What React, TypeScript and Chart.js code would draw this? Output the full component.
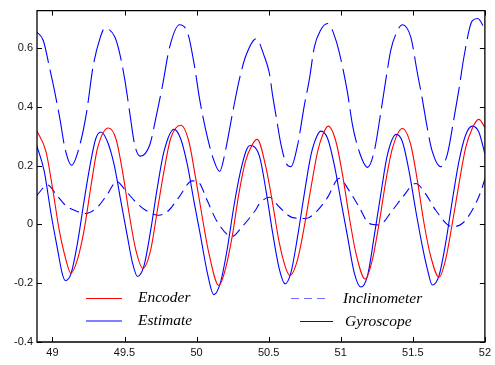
import React, { useEffect, useRef } from "react";
import { Chart, registerables } from "chart.js";

Chart.register(...registerables);

// ---- Data ----
const encoderX = [48.89, 48.955, 49.0, 49.047, 49.093, 49.128, 49.174, 49.22, 49.266, 49.313, 49.389, 49.44, 49.486, 49.532, 49.578, 49.628, 49.682, 49.728, 49.774, 49.82, 49.891, 49.947, 49.993, 50.039, 50.085, 50.154, 50.2, 50.247, 50.293, 50.339, 50.385, 50.42, 50.482, 50.528, 50.574, 50.621, 50.648, 50.701, 50.747, 50.794, 50.84, 50.874, 50.914, 50.967, 51.012, 51.059, 51.105, 51.17, 51.22, 51.266, 51.313, 51.359, 51.428, 51.486, 51.532, 51.578, 51.624, 51.682, 51.728, 51.774, 51.82, 51.866, 51.912, 51.958, 52.0];
const encoderY = [0.32, 0.248, 0.126, -0.019, -0.119, -0.166, -0.119, -0.019, 0.126, 0.259, 0.328, 0.292, 0.181, 0.037, -0.086, -0.15, -0.086, 0.048, 0.181, 0.292, 0.337, 0.281, 0.159, 0.026, -0.097, -0.208, -0.152, -0.041, 0.103, 0.214, 0.27, 0.289, 0.192, 0.07, -0.063, -0.152, -0.174, -0.119, -0.008, 0.126, 0.248, 0.303, 0.334, 0.281, 0.17, 0.026, -0.097, -0.186, -0.119, 0.003, 0.148, 0.259, 0.326, 0.27, 0.148, 0.003, -0.108, -0.18, -0.119, 0.003, 0.137, 0.259, 0.326, 0.357, 0.33];

const estimateX = [48.89, 48.943, 48.99, 49.036, 49.066, 49.089, 49.128, 49.174, 49.22, 49.266, 49.301, 49.336, 49.382, 49.428, 49.474, 49.52, 49.555, 49.59, 49.635, 49.682, 49.728, 49.774, 49.843, 49.889, 49.936, 49.981, 50.028, 50.074, 50.12, 50.166, 50.212, 50.258, 50.305, 50.351, 50.374, 50.436, 50.482, 50.528, 50.574, 50.614, 50.655, 50.701, 50.747, 50.794, 50.833, 50.863, 50.909, 50.955, 51.001, 51.047, 51.093, 51.14, 51.186, 51.232, 51.278, 51.324, 51.386, 51.428, 51.474, 51.52, 51.566, 51.601, 51.635, 51.682, 51.728, 51.774, 51.82, 51.866, 51.913, 51.958, 52.0];
const estimateY = [0.27, 0.181, 0.037, -0.086, -0.163, -0.191, -0.169, -0.063, 0.081, 0.214, 0.292, 0.314, 0.281, 0.203, 0.081, -0.041, -0.13, -0.177, -0.141, -0.019, 0.126, 0.248, 0.323, 0.292, 0.203, 0.081, -0.041, -0.163, -0.239, -0.197, -0.086, 0.059, 0.181, 0.259, 0.268, 0.232, 0.114, -0.03, -0.152, -0.202, -0.163, -0.041, 0.103, 0.237, 0.298, 0.317, 0.292, 0.203, 0.081, -0.041, -0.163, -0.213, -0.174, -0.041, 0.103, 0.237, 0.306, 0.281, 0.181, 0.048, -0.074, -0.152, -0.206, -0.174, -0.063, 0.081, 0.214, 0.303, 0.334, 0.314, 0.24];

const inclinometerX = [48.89, 48.967, 49.024, 49.093, 49.163, 49.232, 49.313, 49.382, 49.446, 49.509, 49.578, 49.647, 49.739, 49.808, 49.877, 49.97, 50.016, 50.074, 50.143, 50.247, 50.316, 50.408, 50.436, 50.505, 50.574, 50.666, 50.759, 50.84, 50.909, 50.99, 51.059, 51.128, 51.197, 51.266, 51.359, 51.428, 51.52, 51.59, 51.659, 51.774, 51.843, 51.912, 51.97, 52.0];
const inclinometerY = [0.098, 0.134, 0.103, 0.064, 0.046, 0.037, 0.059, 0.103, 0.146, 0.114, 0.076, 0.048, 0.031, 0.048, 0.092, 0.148, 0.142, 0.081, 0.009, -0.041, -0.008, 0.048, 0.07, 0.092, 0.059, 0.023, 0.02, 0.048, 0.092, 0.157, 0.114, 0.059, 0.003, -0.002, 0.048, 0.092, 0.139, 0.103, 0.048, -0.008, 0.003, 0.048, 0.109, 0.155];

const gyroscopeX = [48.89, 48.936, 48.983, 49.017, 49.052, 49.087, 49.133, 49.19, 49.237, 49.282, 49.329, 49.363, 49.433, 49.467, 49.502, 49.536, 49.571, 49.61, 49.675, 49.721, 49.767, 49.813, 49.882, 49.94, 49.986, 50.021, 50.067, 50.114, 50.16, 50.2, 50.25, 50.3, 50.344, 50.413, 50.471, 50.505, 50.528, 50.551, 50.586, 50.62, 50.655, 50.701, 50.747, 50.782, 50.817, 50.86, 50.909, 50.967, 51.012, 51.047, 51.082, 51.128, 51.186, 51.232, 51.278, 51.313, 51.347, 51.385, 51.428, 51.486, 51.532, 51.566, 51.601, 51.635, 51.693, 51.739, 51.785, 51.82, 51.855, 51.912, 51.95, 52.0];
const gyroscopeY = [0.655, 0.626, 0.526, 0.448, 0.359, 0.259, 0.201, 0.27, 0.381, 0.537, 0.631, 0.667, 0.637, 0.581, 0.492, 0.381, 0.27, 0.232, 0.27, 0.37, 0.481, 0.603, 0.679, 0.648, 0.537, 0.426, 0.314, 0.226, 0.18, 0.25, 0.38, 0.5, 0.576, 0.631, 0.57, 0.514, 0.437, 0.37, 0.27, 0.209, 0.196, 0.27, 0.403, 0.492, 0.603, 0.66, 0.683, 0.626, 0.537, 0.448, 0.337, 0.248, 0.194, 0.248, 0.381, 0.492, 0.592, 0.65, 0.679, 0.637, 0.514, 0.426, 0.326, 0.248, 0.196, 0.237, 0.359, 0.459, 0.57, 0.692, 0.7, 0.665];

const xTicks = [49, 49.5, 50, 50.5, 51, 51.5, 52];
const yTicks = [-0.4, -0.2, 0, 0.2, 0.4, 0.6];
const seriesNames = ["Encoder", "Estimate", "Inclinometer", "Gyroscope"];

const X_MIN = 48.893;
const X_MAX = 52;
const Y_MIN = -0.4;
const Y_MAX = 0.727;

const toPoints = (xs: number[], ys: number[]) => xs.map((x, i) => ({ x, y: ys[i] }));

const framePlugin = {
  id: "frame",
  afterDraw(chart: any) {
    const { ctx, chartArea, scales } = chart;
    const { left, right, top, bottom } = chartArea;
    ctx.save();
    ctx.strokeStyle = "#000";
    ctx.lineWidth = 1.3;
    ctx.beginPath();
    ctx.rect(left, top, right - left, bottom - top);
    ctx.stroke();
    ctx.lineWidth = 1;
    const tl = 5;
    ctx.beginPath();
    xTicks.forEach((v) => {
      const px = Math.round(scales.x.getPixelForValue(v)) + 0.5;
      ctx.moveTo(px, bottom);
      ctx.lineTo(px, bottom - tl);
      ctx.moveTo(px, top);
      ctx.lineTo(px, top + tl);
    });
    yTicks.forEach((v) => {
      const py = Math.round(scales.y.getPixelForValue(v)) + 0.5;
      ctx.moveTo(left, py);
      ctx.lineTo(left + tl, py);
      ctx.moveTo(right, py);
      ctx.lineTo(right - tl, py);
    });
    ctx.stroke();

    // Legend
    const font = 'italic 15.5px "Liberation Serif", "Times New Roman", serif';
    ctx.font = font;
    ctx.fillStyle = "#000";
    ctx.textBaseline = "alphabetic";
    ctx.textAlign = "left";
    const items = [
      { name: seriesNames[0], color: "#ff0000", dash: [] as number[], x1: 86, x2: 122, ly: 298.5, tx: 138, ty: 302 },
      { name: seriesNames[1], color: "#0000ff", dash: [] as number[], x1: 86, x2: 122, ly: 321, tx: 138, ty: 325 },
      { name: seriesNames[2], color: "rgba(60,60,255,0.75)", dash: [8, 5], x1: 291, x2: 325, ly: 298.5, tx: 343, ty: 302.5 },
      { name: seriesNames[3], color: "#0000ff", dash: [] as number[], x1: 300, x2: 333, ly: 321.5, tx: 345, ty: 326 },
    ];
    items.forEach((it) => {
      ctx.save();
      ctx.strokeStyle = it.color;
      ctx.lineWidth = 1.2;
      ctx.setLineDash(it.dash);
      ctx.beginPath();
      ctx.moveTo(it.x1, it.ly);
      ctx.lineTo(it.x2, it.ly);
      ctx.stroke();
      ctx.restore();
      ctx.fillText(it.name, it.tx, it.ty);
    });
    ctx.restore();
  },
};

export default function App() {
  const ref = useRef<HTMLCanvasElement | null>(null);
  useEffect(() => {
    if (!ref.current) return;
    const tickFont = { family: '"Liberation Sans", Arial, sans-serif', size: 11 };
    const chart = new Chart(ref.current, {
      type: "line",
      data: {
        datasets: [
          {
            label: seriesNames[0],
            data: toPoints(encoderX, encoderY),
            borderColor: "#ff0000",
            borderWidth: 1.1,
            pointRadius: 0,
            cubicInterpolationMode: "monotone",
          },
          {
            label: seriesNames[1],
            data: toPoints(estimateX, estimateY),
            borderColor: "#0000ff",
            borderWidth: 1.1,
            pointRadius: 0,
            cubicInterpolationMode: "monotone",
          },
          {
            label: seriesNames[2],
            data: toPoints(inclinometerX, inclinometerY),
            borderColor: "#0000ff",
            borderWidth: 1.1,
            borderDash: [10, 6],
            pointRadius: 0,
            cubicInterpolationMode: "monotone",
          },
          {
            label: seriesNames[3],
            data: toPoints(gyroscopeX, gyroscopeY),
            borderColor: "#0000ff",
            borderWidth: 1.1,
            borderDash: [34, 7],
            pointRadius: 0,
            cubicInterpolationMode: "monotone",
          },
        ],
      },
      options: {
        animation: false,
        responsive: false,
        devicePixelRatio: 1,
        layout: { padding: { left: 0, top: 4, right: 9, bottom: 0 } },
        plugins: { legend: { display: false }, tooltip: { enabled: false } },
        scales: {
          x: {
            type: "linear",
            min: X_MIN,
            max: X_MAX,
            grid: { display: false, drawTicks: false },
            border: { display: false },
            ticks: {
              padding: 4,
              color: "#111",
              font: tickFont,
              maxRotation: 0,
              autoSkip: false,
              callback: (v: any) => String(v),
            },
            afterBuildTicks: (s: any) => {
              s.ticks = xTicks.map((value) => ({ value }));
            },
            afterFit: (s: any) => {
              s.height = 23;
            },
          },
          y: {
            type: "linear",
            min: Y_MIN,
            max: Y_MAX,
            grid: { display: false, drawTicks: false },
            border: { display: false },
            ticks: {
              padding: 4,
              color: "#111",
              font: tickFont,
              autoSkip: false,
              callback: (v: any) => String(v),
            },
            afterBuildTicks: (s: any) => {
              s.ticks = yTicks.map((value) => ({ value }));
            },
            afterFit: (s: any) => {
              s.width = 37;
            },
          },
        },
      },
      plugins: [framePlugin],
    } as any);
    return () => chart.destroy();
  }, []);
  return (
    <div style={{ position: "fixed", left: 0, top: 0, width: 495, height: 365, background: "#fff" }}>
      <canvas ref={ref} width={495} height={365} style={{ display: "block" }} />
    </div>
  );
}
